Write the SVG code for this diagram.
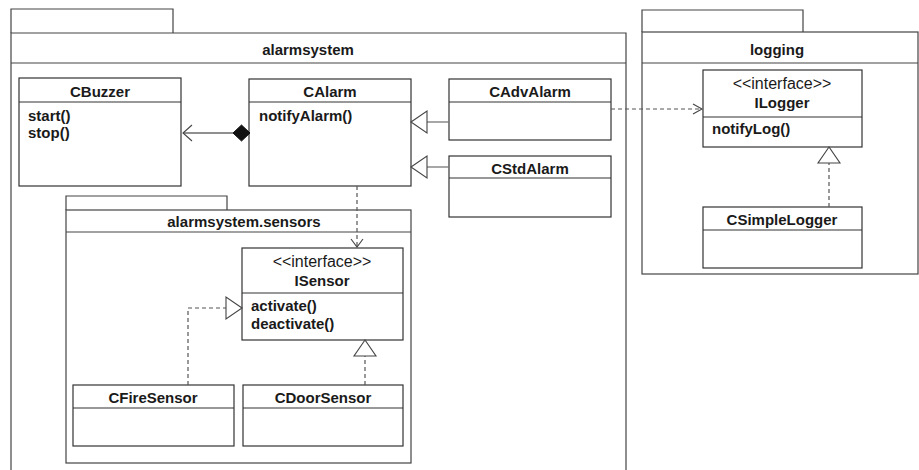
<svg xmlns="http://www.w3.org/2000/svg" width="919" height="470" viewBox="0 0 919 470">
<style>
.pkg{fill:none;stroke:#444;stroke-width:1.2}
.box{fill:#fff;stroke:#333;stroke-width:1.2}
.sep{stroke:#333;stroke-width:1.2}
.t{font-family:"Liberation Sans",Arial,sans-serif;font-size:15px;font-weight:bold;fill:#1a1a1a}
.n{font-family:"Liberation Sans",Arial,sans-serif;font-size:16px;fill:#1a1a1a}
.c{text-anchor:middle}
.solid{fill:none;stroke:#777;stroke-width:1.3}
.blk{fill:none;stroke:#222;stroke-width:1.2}
.dash{fill:none;stroke:#555;stroke-width:1.2;stroke-dasharray:4 3}
.tri{fill:#fff;stroke:#444;stroke-width:1.1}
.open{fill:none;stroke:#444;stroke-width:1.1}
</style>
<rect width="919" height="470" fill="#fff"/>
<g id="pkg-alarmsystem">
<path class="pkg" d="M11,33 V9 H173 V33"/>
<path class="pkg" d="M11,470 V33 H626 V470"/>
<line class="pkg" x1="11" y1="63" x2="626" y2="63"/>
<text class="t c" x="308" y="55">alarmsystem</text>
</g>
<g id="pkg-logging">
<path class="pkg" d="M642,32 V10 H803 V32"/>
<rect class="pkg" x="642" y="32" width="276" height="242"/>
<line class="pkg" x1="642" y1="63" x2="918" y2="63"/>
<text class="t c" x="777" y="55">logging</text>
</g>
<g id="pkg-sensors">
<path class="pkg" d="M66,210 V196 H227 V210"/>
<rect class="pkg" x="66" y="210" width="345" height="253"/>
<line class="pkg" x1="66" y1="232" x2="411" y2="232"/>
<text class="t c" x="244" y="227">alarmsystem.sensors</text>
</g>
<g id="CBuzzer">
<rect class="box" x="19" y="78" width="162" height="108"/>
<line class="sep" x1="19" y1="102" x2="181" y2="102"/>
<text class="t c" x="100" y="97">CBuzzer</text>
<text class="t" x="28" y="121">start()</text>
<text class="t" x="28" y="138">stop()</text>
</g>
<g id="CAlarm">
<rect class="box" x="249" y="79" width="162" height="107"/>
<line class="sep" x1="249" y1="102" x2="411" y2="102"/>
<text class="t c" x="330" y="97">CAlarm</text>
<text class="t" x="259" y="121">notifyAlarm()</text>
</g>
<g id="CAdvAlarm">
<rect class="box" x="449" y="79" width="162" height="61"/>
<line class="sep" x1="449" y1="102" x2="611" y2="102"/>
<text class="t c" x="530" y="97">CAdvAlarm</text>
</g>
<g id="CStdAlarm">
<rect class="box" x="449" y="156" width="162" height="61"/>
<line class="sep" x1="449" y1="178" x2="611" y2="178"/>
<text class="t c" x="530" y="174">CStdAlarm</text>
</g>
<g id="ILogger">
<rect class="box" x="703" y="70" width="159" height="77"/>
<line class="sep" x1="703" y1="117" x2="862" y2="117"/>
<text class="n c" x="782" y="89">&lt;&lt;interface&gt;&gt;</text>
<text class="t c" x="782" y="108">ILogger</text>
<text class="t" x="712" y="134">notifyLog()</text>
</g>
<g id="CSimpleLogger">
<rect class="box" x="703" y="207" width="159" height="61"/>
<line class="sep" x1="703" y1="230" x2="862" y2="230"/>
<text class="t c" x="782" y="225">CSimpleLogger</text>
</g>
<g id="ISensor">
<rect class="box" x="242" y="248" width="161" height="92"/>
<line class="sep" x1="242" y1="293" x2="403" y2="293"/>
<text class="n c" x="322" y="267">&lt;&lt;interface&gt;&gt;</text>
<text class="t c" x="322" y="286">ISensor</text>
<text class="t" x="251" y="311">activate()</text>
<text class="t" x="251" y="329">deactivate()</text>
</g>
<g id="CFireSensor">
<rect class="box" x="73" y="385" width="161" height="61"/>
<line class="sep" x1="73" y1="408" x2="234" y2="408"/>
<text class="t c" x="153" y="403">CFireSensor</text>
</g>
<g id="CDoorSensor">
<rect class="box" x="243" y="385" width="160" height="61"/>
<line class="sep" x1="243" y1="408" x2="403" y2="408"/>
<text class="t c" x="323" y="403">CDoorSensor</text>
</g>
<g id="connectors">
<line class="blk" x1="233" y1="133" x2="183" y2="133"/>
<polygon points="250,133 241.5,125 233,133 241.5,141" fill="#111" stroke="#111"/>
<polyline class="open" points="192,125 183,133 192,141"/>
<line class="solid" x1="449" y1="122" x2="427" y2="122"/>
<polygon class="tri" points="411,122 427,111 427,133"/>
<line class="solid" x1="449" y1="167" x2="427" y2="167"/>
<polygon class="tri" points="411,167 427,156 427,178"/>
<line class="dash" x1="611" y1="109" x2="702" y2="109"/>
<polyline class="open" points="693,104 702,109 693,114"/>
<line class="dash" x1="357" y1="186" x2="357" y2="247"/>
<polyline class="open" points="351,239 357,247 363,239"/>
<line class="dash" x1="829" y1="207" x2="829" y2="163"/>
<polygon class="tri" points="829,147 818,163 840,163"/>
<polyline class="dash" points="188,385 188,308 226,308"/>
<polygon class="tri" points="242,308 226,297 226,319"/>
<line class="dash" x1="365" y1="385" x2="365" y2="356"/>
<polygon class="tri" points="365,340 354,356 376,356"/>
</g>
</svg>
